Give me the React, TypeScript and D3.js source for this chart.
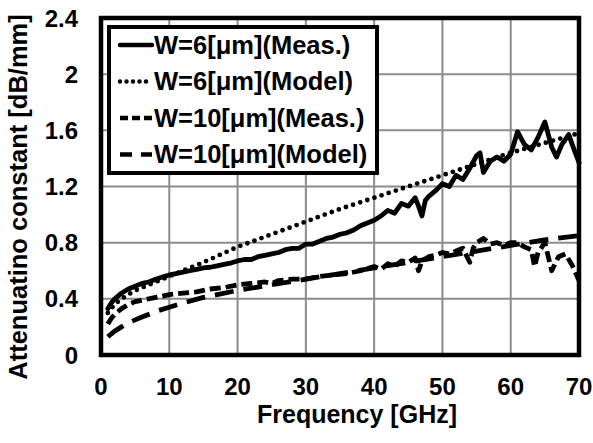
import React, { useRef, useEffect } from 'react';
import * as d3 from 'd3';

// W=6 measured
const meas6F = [1, 1.5, 2, 3, 4, 5, 6, 7, 8, 9, 10, 11, 12, 13, 14, 15, 16, 17, 18, 19, 20, 21, 22, 23, 24, 25, 26, 27, 28, 29, 30, 31, 32, 33, 34, 35, 36, 37, 38, 39, 40, 41, 42, 43, 44, 45, 46, 46.5, 47, 47.5, 48, 49, 50, 51, 52, 53, 54, 55, 55.5, 56, 57, 58, 59, 60, 61, 62, 63, 64, 65, 66, 66.7, 67.5, 68.5, 69, 70];
const meas6V = [0.33, 0.37, 0.40, 0.44, 0.47, 0.49, 0.51, 0.52, 0.54, 0.555, 0.57, 0.58, 0.59, 0.60, 0.61, 0.62, 0.625, 0.635, 0.645, 0.655, 0.67, 0.68, 0.68, 0.70, 0.71, 0.72, 0.73, 0.75, 0.76, 0.76, 0.79, 0.79, 0.81, 0.83, 0.84, 0.86, 0.87, 0.89, 0.92, 0.94, 0.96, 0.99, 1.03, 1.01, 1.08, 1.06, 1.12, 1.06, 0.99, 1.10, 1.13, 1.17, 1.22, 1.20, 1.28, 1.25, 1.33, 1.42, 1.44, 1.30, 1.38, 1.41, 1.38, 1.43, 1.59, 1.50, 1.46, 1.55, 1.66, 1.48, 1.41, 1.50, 1.57, 1.50, 1.37];

// W=6 model
const model6F = [1, 2, 3, 4, 5, 6, 8, 10, 12, 15, 20, 25, 30, 35, 40, 45, 50, 55, 60, 65, 70];
const model6V = [0.30, 0.36, 0.40, 0.43, 0.46, 0.48, 0.52, 0.56, 0.60, 0.66, 0.77, 0.86, 0.95, 1.04, 1.12, 1.20, 1.28, 1.36, 1.44, 1.51, 1.58];

// W=10 measured
const meas10F = [1, 1.5, 2, 3, 4, 5, 6, 7, 8, 9, 10, 12, 14, 16, 18, 20, 22, 24, 25, 26, 28, 30, 32, 34, 36, 38, 40, 41, 42, 43, 44, 45, 46, 46.5, 47, 48, 49, 50, 51, 52, 53, 54, 54.5, 55, 56, 57, 58, 59, 60, 61, 62, 63, 63.5, 64, 65, 66, 67, 68, 69, 70];
const meas10V = [0.22, 0.26, 0.29, 0.33, 0.36, 0.38, 0.39, 0.40, 0.41, 0.42, 0.43, 0.44, 0.45, 0.47, 0.48, 0.50, 0.51, 0.52, 0.51, 0.53, 0.54, 0.54, 0.56, 0.57, 0.58, 0.60, 0.63, 0.61, 0.65, 0.63, 0.67, 0.66, 0.69, 0.60, 0.67, 0.70, 0.71, 0.73, 0.72, 0.74, 0.76, 0.66, 0.76, 0.80, 0.83, 0.79, 0.80, 0.78, 0.80, 0.80, 0.77, 0.75, 0.63, 0.73, 0.80, 0.60, 0.70, 0.72, 0.64, 0.53];

// W=10 model
const model10F = [1, 2, 3, 4, 5, 6, 8, 10, 12, 15, 20, 25, 30, 35, 40, 45, 50, 55, 60, 65, 70];
const model10V = [0.13, 0.17, 0.20, 0.23, 0.25, 0.27, 0.31, 0.34, 0.37, 0.41, 0.46, 0.50, 0.54, 0.58, 0.62, 0.66, 0.70, 0.74, 0.78, 0.82, 0.85];

const xTicks = [0, 10, 20, 30, 40, 50, 60, 70];
const yTicks = [0, 0.4, 0.8, 1.2, 1.6, 2, 2.4];

const series = [
  { name: 'W=6[μm](Meas.)', f: meas6F, v: meas6V, dash: null, legendDash: null, cap: 'round' },
  { name: 'W=6[μm](Model)', f: model6F, v: model6V, dash: '0 7.5', legendDash: '0 6.5', cap: 'round' },
  { name: 'W=10[μm](Meas.)', f: meas10F, v: meas10V, dash: '11 5', legendDash: '8 4', cap: 'butt' },
  { name: 'W=10[μm](Model)', f: model10F, v: model10V, dash: '19 10', legendDash: '12 9', cap: 'butt' },
];

const FONT = '"Liberation Sans", Arial, sans-serif';

const App = () => {
  const ref = useRef<SVGSVGElement>(null);

  useEffect(() => {
    const svg = d3.select(ref.current);
    svg.selectAll('*').remove();

    const x = d3.scaleLinear().domain([0, 70]).range([101, 579]);
    const y = d3.scaleLinear().domain([0, 2.4]).range([355, 18]);

    svg.append('rect').attr('width', 593).attr('height', 443).attr('fill', '#fff');

    // grid
    const grid = svg.append('g').attr('stroke', '#8c8c8c').attr('stroke-width', 2);
    grid.selectAll('line.v')
      .data(xTicks.slice(1, -1))
      .enter().append('line')
      .attr('x1', d => x(d)).attr('x2', d => x(d))
      .attr('y1', y(0)).attr('y2', y(2.4));
    grid.selectAll('line.h')
      .data(yTicks.slice(1, -1))
      .enter().append('line')
      .attr('x1', x(0)).attr('x2', x(70))
      .attr('y1', d => y(d)).attr('y2', d => y(d));

    // series
    series.forEach(s => {
      const pts = s.f.map((f, i) => [f, s.v[i]] as [number, number]);
      const line = d3.line<[number, number]>().x(d => x(d[0])).y(d => y(d[1]));
      const p = svg.append('path')
        .datum(pts)
        .attr('fill', 'none')
        .attr('stroke', '#000')
        .attr('stroke-width', 4.8)
        .attr('stroke-linejoin', 'round')
        .attr('stroke-linecap', s.cap)
        .attr('d', line);
      if (s.dash) p.attr('stroke-dasharray', s.dash);
    });

    // plot frame
    svg.append('rect')
      .attr('x', x(0)).attr('y', y(2.4))
      .attr('width', x(70) - x(0)).attr('height', y(0) - y(2.4))
      .attr('fill', 'none').attr('stroke', '#000').attr('stroke-width', 4.5);

    // tick labels
    svg.append('g').selectAll('text')
      .data(xTicks).enter().append('text')
      .attr('x', d => x(d)).attr('y', 395)
      .attr('text-anchor', 'middle')
      .attr('font-family', FONT).attr('font-weight', 'bold').attr('font-size', 24)
      .text(d => d);
    svg.append('g').selectAll('text')
      .data(yTicks).enter().append('text')
      .attr('x', 78).attr('y', d => y(d) + 8.5)
      .attr('text-anchor', 'end')
      .attr('font-family', FONT).attr('font-weight', 'bold').attr('font-size', 24)
      .text(d => d);

    // axis titles
    svg.append('text')
      .attr('x', 357).attr('y', 423)
      .attr('text-anchor', 'middle')
      .attr('font-family', FONT).attr('font-weight', 'bold').attr('font-size', 25)
      .text('Frequency [GHz]');
    svg.append('text')
      .attr('transform', 'translate(27,197) rotate(-90)')
      .attr('text-anchor', 'middle')
      .attr('font-family', FONT).attr('font-weight', 'bold').attr('font-size', 25.5)
      .text('Attenuatino constant [dB/mm]');

    // legend
    const lg = svg.append('g');
    lg.append('rect')
      .attr('x', 109).attr('y', 27).attr('width', 268).attr('height', 146)
      .attr('fill', '#fff').attr('stroke', '#000').attr('stroke-width', 4);
    series.forEach((s, i) => {
      const cy = 45 + i * 36.5;
      const l = lg.append('line')
        .attr('x1', 120).attr('x2', 152).attr('y1', cy).attr('y2', cy)
        .attr('stroke', '#000').attr('stroke-width', 4.5)
        .attr('stroke-linecap', s.cap);
      if (s.legendDash) l.attr('stroke-dasharray', s.legendDash);
      lg.append('text')
        .attr('x', 154).attr('y', cy + 8.5)
        .attr('font-family', FONT).attr('font-weight', 'bold').attr('font-size', 25.5)
        .text(s.name);
    });
  }, []);

  return (
    <svg ref={ref} width={593} height={443} style={{ position: 'absolute', left: 0, top: 0 }}></svg>
  );
};

export default App;
